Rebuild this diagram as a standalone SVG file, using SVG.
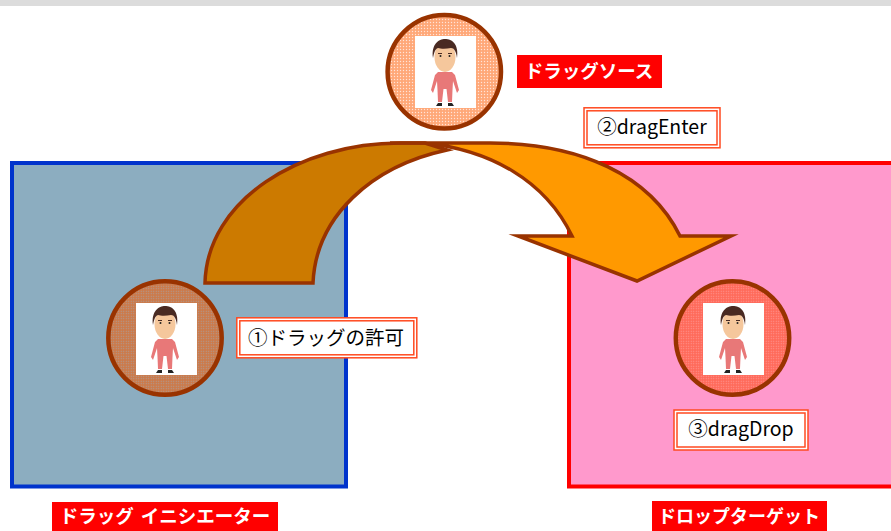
<svg xmlns="http://www.w3.org/2000/svg" xmlns:xlink="http://www.w3.org/1999/xlink" width="891" height="531" viewBox="0 0 891 531">
<style>
text{font-family:"Noto Sans CJK JP","Noto Sans",sans-serif;text-anchor:middle}
.ring{stroke:#993300;stroke-width:4.500}
.pic{fill:#fff}
.tag{fill:#f00}
.tagt{fill:#fff;font-size:18.500px;font-weight:700}
.o{fill:#fff;stroke:#ff4a20;stroke-width:1.500}
.lab{fill:#000;font-size:19.500px}
.arr{stroke:#993300;stroke-width:3.500;stroke-linejoin:miter;stroke-miterlimit:10}
</style>
<defs>
<pattern id="p1" width="2.500" height="2.500" patternUnits="userSpaceOnUse"><rect width="2.500" height="2.500" fill="#cc7a4a"/><circle cx="1.250" cy="1.250" r=".6" fill="#a8a0a0"/></pattern>
<pattern id="p2" width="3" height="3" patternUnits="userSpaceOnUse"><rect width="3" height="3" fill="#ffa878"/><circle cx="1.500" cy="1.500" r=".7" fill="#ffe4d8"/></pattern>
<pattern id="p3" width="2.500" height="2.500" patternUnits="userSpaceOnUse"><rect width="2.500" height="2.500" fill="#ff6a5a"/><circle cx="1.250" cy="1.250" r=".6" fill="#ff9a98"/></pattern>
<filter id="soft" x="-10%" y="-10%" width="120%" height="120%"><feGaussianBlur stdDeviation="0.6"/></filter>
<g id="man" filter="url(#soft)">
<path d="M-7 36 L-10 39 L-14 54 L-12 57 L-8 45 L-7.500 54 L-7 66 L-3 66 L-1.500 53 L1.500 53 L3 66 L7 66 L7.500 54 L8 45 L12 57 L14 54 L10 39 L7 36Z" fill="#e87878"/>
<path d="M-9 70 L-3 70 L-3 67 L-7 67ZM9 70 L3 70 L3 67 L7 67Z" fill="#222"/>
<ellipse cx="0" cy="21" rx="10.500" ry="15" fill="#f5c79c"/>
<path d="M-12 22 C-14 8 -6 3 0 3 C7 3 14 8 12 22 C11 15 9 12 6 12 C1 13 -4 13 -7 12 C-10 13 -11 17 -12 22Z" fill="#4a2a22"/>
<path d="M-7 17.500 h4 M3 17.500 h4" stroke="#4a2a22" fill="none"/>
<circle cx="-4.500" cy="20" r="1" fill="#222"/><circle cx="4.500" cy="20" r="1" fill="#222"/>
</g>
</defs>
<rect width="891" height="531" fill="#fff"/>
<rect width="891" height="6" fill="#dcdcdc"/>
<g id="initiator">
<rect x="12" y="163" width="334" height="323.500" fill="#8cadc0" stroke="#0033cc" stroke-width="4"/>
<rect class="tag" x="52" y="502" width="226" height="29"/>
<text class="tagt" x="165" y="523" word-spacing="3">ドラッグ イニシエーター</text>
</g>
<g id="target">
<rect x="569" y="163" width="330" height="323.500" fill="#ff99cc" stroke="#f00" stroke-width="4"/>
<rect class="tag" x="652" y="501" width="175" height="30"/>
<text class="tagt" x="739" y="523" style="font-size:18px">ドロップターゲット</text>
</g>
<g id="connectors">
<path class="arr" fill="#cc7a00" d="M205 283 C207 200 300 143 400 143 L425 143 L447 150 C372 166 316 216 313 283Z"/>
<path class="arr" fill="#ff9900" d="M390 143 L490 143 C580 143 650 175 680 236 L731 236 L637 281 L518 236 L572 236 C545 180 490 150 425 143 Z"/>
</g>
<g id="source">
<circle class="ring" cx="444.300" cy="71.700" r="56.700" fill="url(#p2)"/>
<rect class="pic" x="415" y="36" width="61" height="72"/>
<use xlink:href="#man" href="#man" x="445" y="36"/>
<rect class="tag" x="517" y="55" width="145" height="33"/>
<text class="tagt" x="589" y="78">ドラッグソース</text>
</g>
<g id="allow">
<circle class="ring" cx="165" cy="338" r="56.700" fill="url(#p1)"/>
<rect class="pic" x="136" y="303" width="61" height="72"/>
<use xlink:href="#man" href="#man" x="165" y="303"/>
</g>
<g id="drop">
<circle class="ring" cx="732.500" cy="338" r="56.700" fill="url(#p3)"/>
<rect class="pic" x="703" y="303" width="61" height="72"/>
<use xlink:href="#man" href="#man" x="733" y="303"/>
</g>
<g id="label1">
<rect class="o" x="236.800" y="317.800" width="180" height="40"/>
<rect class="o" x="239.800" y="320.800" width="174" height="34"/>
<text class="lab" x="326" y="345">①ドラッグの許可</text>
</g>
<g id="label2">
<rect class="o" x="584" y="107.800" width="136" height="40"/>
<rect class="o" x="587" y="110.800" width="130" height="34"/>
<text class="lab" x="652" y="134">②dragEnter</text>
</g>
<g id="label3">
<rect class="o" x="674" y="410" width="134" height="40"/>
<rect class="o" x="677" y="413" width="128" height="34"/>
<text class="lab" x="741" y="436">③dragDrop</text>
</g>
</svg>
